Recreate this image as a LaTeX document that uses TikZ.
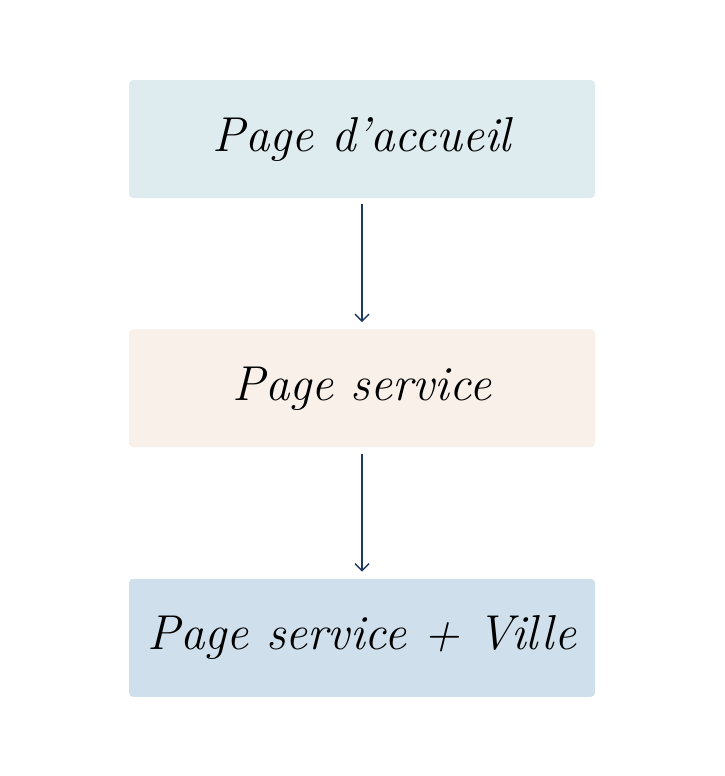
\documentclass[tikz,border=0pt]{standalone}
\usepackage{xcolor}
\usepackage{tikz}
\usetikzlibrary{arrows.meta, positioning}
\definecolor{homecolor}{HTML}{DFECEF}
\definecolor{servcolor}{HTML}{F9F0EA}
\definecolor{citycolor}{HTML}{CFE0EC}
\definecolor{arrowcolor}{HTML}{1E3A5F}

\begin{document}
\begin{tikzpicture}[
  x=1pt, y=-1pt,
  node distance=131pt,
  page/.style={rounded corners=4pt, minimum width=466pt, minimum height=118pt,
               inner sep=0pt, font=\fontsize{49}{55}\selectfont\itshape},
  arrow/.style={-{Straight Barb[length=7pt, width=14pt]}, line width=1.4pt,
                color=arrowcolor, shorten <=6pt, shorten >=7pt},
]
\useasboundingbox (0,0) rectangle (725,776);

%% Pages
\node[page, fill=homecolor] (home) at (362,139) {Page d'accueil};
\node[page, fill=servcolor, below=of home] (service) {Page service};
\node[page, fill=citycolor, below=of service] (city) {Page service + Ville};

%% Arrows
\draw[arrow] (home) -- (service);
\draw[arrow] (service) -- (city);

\end{tikzpicture}
\end{document}
